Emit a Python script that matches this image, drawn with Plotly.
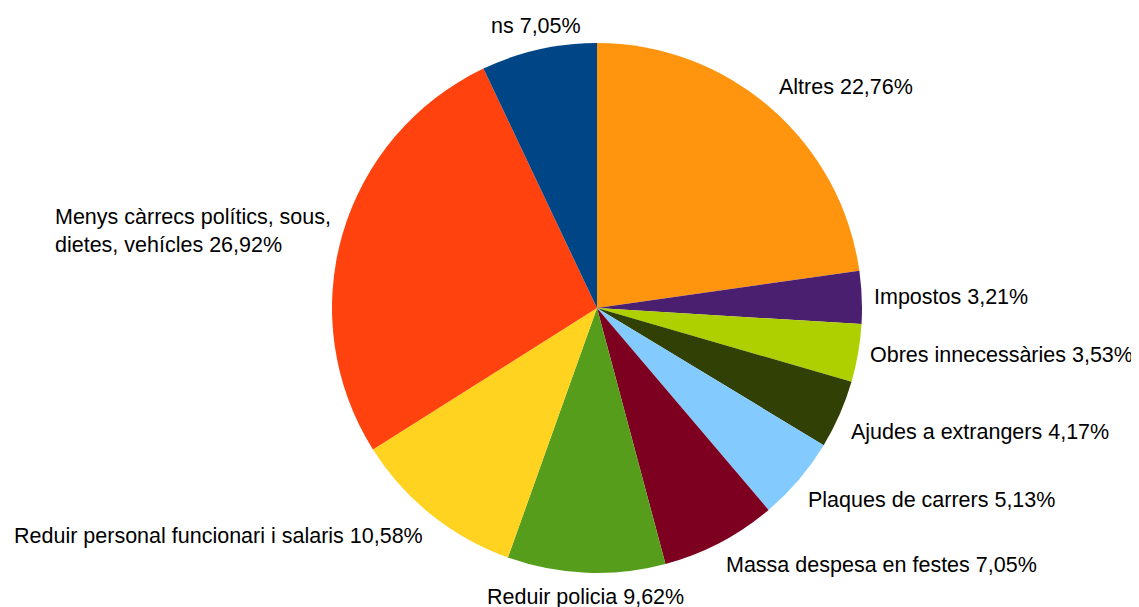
import math
import plotly.graph_objects as go

categories = [
    "Altres",
    "Impostos",
    "Obres innecessàries",
    "Ajudes a extrangers",
    "Plaques de carrers",
    "Massa despesa en festes",
    "Reduir policia",
    "Reduir personal funcionari i salaris",
    "Menys càrrecs polítics, sous,<br>dietes, vehícles",
    "ns",
]
values = [22.76, 3.21, 3.53, 4.17, 5.13, 7.05, 9.62, 10.58, 26.92, 7.05]
colors = ["#FF950E", "#4B1F6F", "#AECF00", "#314004", "#83CAFF",
          "#7E0021", "#579D1C", "#FFD320", "#FF420E", "#004586"]

# page body has an 8px margin, so the figure is shrunk to fit the window
off = 8
W, H = 1139 - off, 607 - off
cx, cy, r = 597 - off, 308 - off, 265
label_gap = 11
FONT = "Liberation Sans, Arial, sans-serif"
FS = 21.5

fig = go.Figure(go.Pie(
    labels=categories,
    values=values,
    sort=False,
    direction="clockwise",
    rotation=0,
    marker=dict(colors=colors, line=dict(width=0)),
    textinfo="none",
    hoverinfo="skip",
    domain=dict(x=[(cx - r) / W, (cx + r) / W], y=[(H - cy - r) / H, (H - cy + r) / H]),
))

# Outside labels: placed at each slice's mid-angle (derived from the values),
# aligned by octant like an office-suite chart.
xanchors = ["center", "left", "left", "left", "center", "right", "right", "right"]
yanchors = ["bottom", "bottom", "middle", "top", "top", "top", "middle", "bottom"]
total = sum(values)
cum = 0.0
annotations = []
for cat, v in zip(categories, values):
    mid = (cum + v / 2) / total * 360.0
    cum += v
    th = math.radians(mid)
    R = r + label_gap
    px = cx + R * math.sin(th)
    py = cy - R * math.cos(th)
    octant = int(((mid + 22.5) % 360) // 45)
    txt = f"{cat} {v:.2f}".replace(".", ",") + "%"
    annotations.append(dict(
        x=px / W, y=1 - py / H, xref="paper", yref="paper",
        text=txt, showarrow=False,
        xanchor=xanchors[octant], yanchor=yanchors[octant],
        align="left", borderpad=0,
        font=dict(family=FONT, size=FS, color="black"),
    ))

fig.update_layout(
    width=W, height=H,
    margin=dict(l=0, r=0, t=0, b=0),
    showlegend=False,
    paper_bgcolor="white",
    plot_bgcolor="white",
    font=dict(family=FONT, size=FS, color="black"),
    annotations=annotations,
)
fig.write_html("out.html")
